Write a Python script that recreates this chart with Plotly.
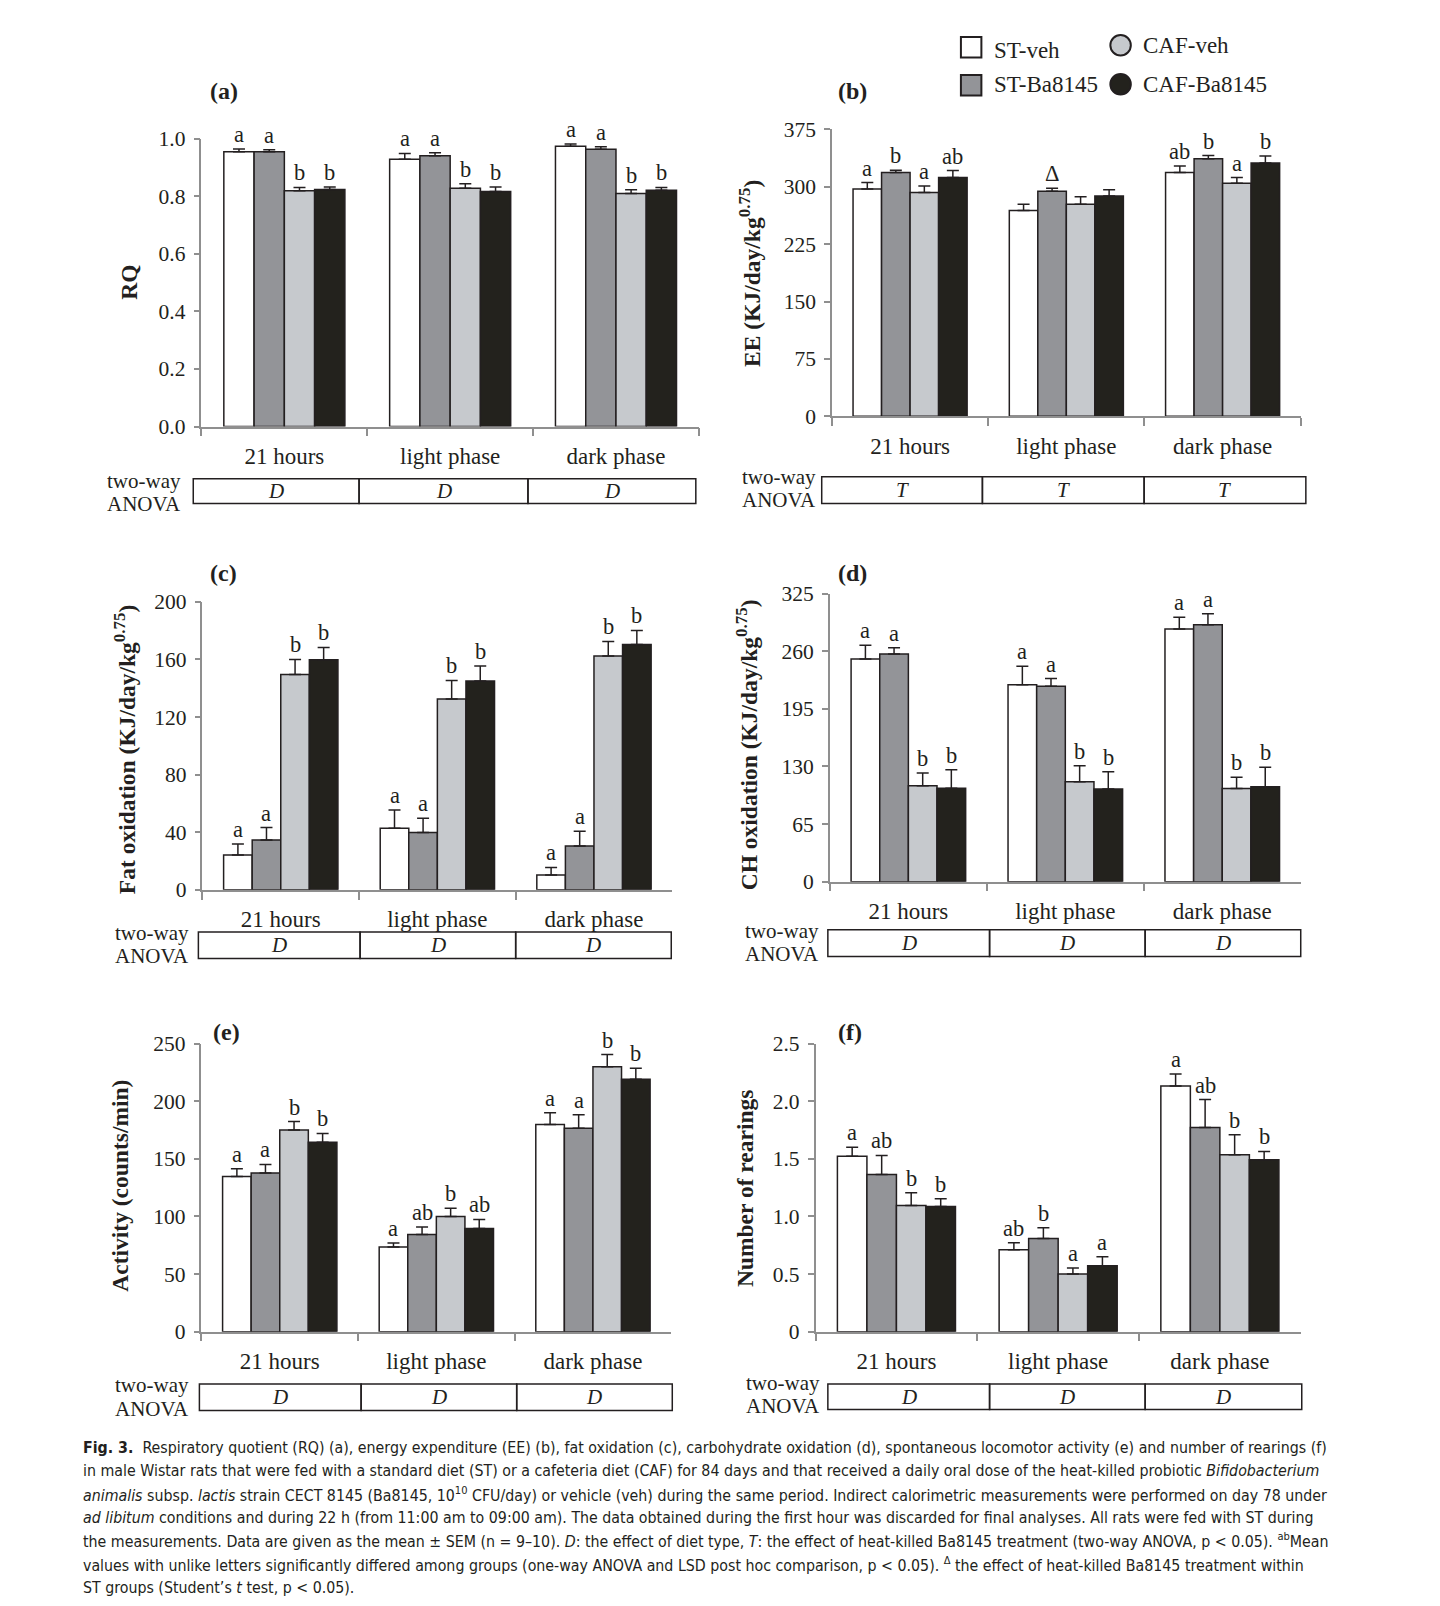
import plotly.graph_objects as go

W, H = 1440, 1606

categories = ["21 hours", "light phase", "dark phase"]
series = ["ST-veh", "ST-Ba8145", "CAF-veh", "CAF-Ba8145"]
bar_colors = ["#ffffff", "#939498", "#c6c9cd", "#23221d"]

# ---- (a) RQ : rows = series, cols = categories
rq_mean = [[0.954, 0.928, 0.973],
           [0.954, 0.940, 0.963],
           [0.819, 0.827, 0.809],
           [0.823, 0.816, 0.820]]
rq_err = [[0.010, 0.020, 0.008],
          [0.007, 0.011, 0.008],
          [0.011, 0.016, 0.013],
          [0.009, 0.016, 0.010]]
rq_letters = [["a", "a", "a"], ["a", "a", "a"], ["b", "b", "b"], ["b", "b", "b"]]
rq_ticks = [0.0, 0.2, 0.4, 0.6, 0.8, 1.0]
rq_ticktext = ["0.0", "0.2", "0.4", "0.6", "0.8", "1.0"]

# ---- (b) EE
ee_mean = [[297, 269, 318.5],
           [318.5, 294, 336.6],
           [292.5, 277, 304.4],
           [312, 288, 331]]
ee_err = [[8.4, 8, 8.5],
          [3, 4, 4],
          [8.5, 10, 7.6],
          [9, 8, 9]]
ee_letters = [["a", "", "ab"], ["b", "Δ", "b"], ["a", "", "a"], ["ab", "", "b"]]
ee_ticks = [0, 75, 150, 225, 300, 375]
ee_ticktext = ["0", "75", "150", "225", "300", "375"]

# ---- (c) Fat oxidation
fat_mean = [[24.2, 42.8, 10.3],
            [34.7, 39.8, 30.5],
            [149.5, 132.6, 162.3],
            [159.8, 145.1, 170.4]]
fat_err = [[7.7, 12.7, 5.3],
           [8.6, 9.9, 10.2],
           [10.5, 12.8, 10.2],
           [8.5, 10.4, 9.7]]
fat_letters = [["a", "a", "a"], ["a", "a", "a"], ["b", "b", "b"], ["b", "b", "b"]]
fat_ticks = [0, 40, 80, 120, 160, 200]
fat_ticktext = ["0", "40", "80", "120", "160", "200"]

# ---- (d) CH oxidation
ch_mean = [[251.3, 222.3, 285.2],
           [257.0, 220.4, 289.8],
           [108.1, 112.7, 105.1],
           [105.5, 104.5, 107.0]]
ch_err = [[15.5, 20.7, 13.2],
          [6.8, 8.7, 12.4],
          [14.4, 18.1, 12.8],
          [20.7, 19.5, 22.2]]
ch_letters = [["a", "a", "a"], ["a", "a", "a"], ["b", "b", "b"], ["b", "b", "b"]]
ch_ticks = [0, 65, 130, 195, 260, 325]
ch_ticktext = ["0", "65", "130", "195", "260", "325"]

# ---- (e) Activity
act_mean = [[134.7, 73.4, 179.8],
            [137.6, 84.4, 176.6],
            [175.1, 100.0, 230.0],
            [164.5, 89.6, 219.0]]
act_err = [[6.6, 3.5, 10.1],
           [7.5, 6.4, 11.6],
           [7.3, 7.2, 10.5],
           [7.5, 7.8, 9.6]]
act_letters = [["a", "a", "a"], ["a", "ab", "a"], ["b", "b", "b"], ["b", "ab", "b"]]
act_ticks = [0, 50, 100, 150, 200, 250]
act_ticktext = ["0", "50", "100", "150", "200", "250"]

# ---- (f) Rearings
rear_mean = [[1.523, 0.711, 2.133],
             [1.364, 0.809, 1.772],
             [1.095, 0.500, 1.535],
             [1.087, 0.572, 1.491]]
rear_err = [[0.078, 0.061, 0.104],
            [0.165, 0.093, 0.242],
            [0.110, 0.052, 0.173],
            [0.066, 0.078, 0.073]]
rear_letters = [["a", "ab", "a"], ["ab", "b", "ab"], ["b", "a", "b"], ["b", "a", "b"]]
rear_ticks = [0, 0.5, 1.0, 1.5, 2.0, 2.5]
rear_ticktext = ["0", "0.5", "1.0", "1.5", "2.0", "2.5"]

anova_a = ["D", "D", "D"]
anova_b = ["T", "T", "T"]
anova_c = ["D", "D", "D"]
anova_d = ["D", "D", "D"]
anova_e = ["D", "D", "D"]
anova_f = ["D", "D", "D"]

SUP = "<sup><span style='font-size:17px'>0.75</span></sup>"
panels = [
    dict(label="(a)", title="RQ", mean=rq_mean, err=rq_err, letters=rq_letters,
         ticks=rq_ticks, ticktext=rq_ticktext, anova=anova_a),
    dict(label="(b)", title="EE (KJ/day/kg" + SUP + ")", mean=ee_mean, err=ee_err,
         letters=ee_letters, ticks=ee_ticks, ticktext=ee_ticktext, anova=anova_b),
    dict(label="(c)", title="Fat oxidation (KJ/day/kg" + SUP + ")", mean=fat_mean,
         err=fat_err, letters=fat_letters, ticks=fat_ticks, ticktext=fat_ticktext, anova=anova_c),
    dict(label="(d)", title="CH oxidation (KJ/day/kg" + SUP + ")", mean=ch_mean,
         err=ch_err, letters=ch_letters, ticks=ch_ticks, ticktext=ch_ticktext, anova=anova_d),
    dict(label="(e)", title="Activity (counts/min)", mean=act_mean, err=act_err,
         letters=act_letters, ticks=act_ticks, ticktext=act_ticktext, anova=anova_e),
    dict(label="(f)", title="Number of rearings", mean=rear_mean, err=rear_err,
         letters=rear_letters, ticks=rear_ticks, ticktext=rear_ticktext, anova=anova_f),
]

# layout geometry (reading coordinates of the reference)
geom = [
    dict(x=(196, 682), y=(136, 417), lab=(218, 90), tit=(125, 276),
         box=(188, 350, 515, 679), by=(468, 492), tw=(140, 470, 493)),
    dict(x=(812, 1270), y=(127, 407), lab=(832, 90), tit=(732, 268),
         box=(802, 959, 1117, 1275), by=(466, 492), tw=(760, 466, 489)),
    dict(x=(197, 656), y=(588, 869), lab=(218, 560), tit=(122, 732),
         box=(193, 351, 503, 655), by=(910, 936), tw=(148, 911, 934)),
    dict(x=(810, 1270), y=(580, 861), lab=(832, 560), tit=(729, 727),
         box=(808, 966, 1118, 1270), by=(908, 934), tw=(763, 909, 932)),
    dict(x=(196, 655), y=(1019, 1300), lab=(220, 1008), tit=(117, 1158),
         box=(194, 352, 504, 656), by=(1351, 1377), tw=(148, 1352, 1375)),
    dict(x=(796, 1270), y=(1019, 1300), lab=(830, 1008), tit=(727, 1160),
         box=(808, 966, 1118, 1271), by=(1351, 1376), tw=(764, 1350, 1373)),
]


def px(x):
    return (x - 7.0) / 0.977 / W


def py(y):
    return 1 - (y - 19.4) / 0.961 / H


SERIF = "Liberation Serif, Times New Roman, serif"
TXT = "#231f20"
AX = "#8f8f8f"
BARGAP = 0.27

fig = go.Figure()
annotations = []
shapes = []
layout_axes = {}

for p, (pan, g) in enumerate(zip(panels, geom)):
    n = "" if p == 0 else str(p + 1)
    xa, ya = "x" + n, "y" + n
    for k, name in enumerate(series):
        fig.add_trace(go.Bar(
            x=categories, y=pan["mean"][k], name=name, xaxis=xa, yaxis=ya,
            marker=dict(color=bar_colors[k], line=dict(color=TXT, width=1.5)),
            error_y=dict(type="data", symmetric=False, array=pan["err"][k],
                         arrayminus=[0] * len(categories), color=TXT,
                         thickness=1.5, width=6),
            showlegend=False,
        ))
        w = (1 - BARGAP) / len(series)
        for i in range(len(categories)):
            t = pan["letters"][k][i]
            if not t:
                continue
            annotations.append(dict(
                x=i + (k - (len(series) - 1) / 2) * w,
                y=pan["mean"][k][i] + pan["err"][k][i],
                xref=xa, yref=ya, text=t, showarrow=False,
                xanchor="center", yanchor="bottom", yshift=0,
                font=dict(family=SERIF, size=22.5, color=TXT)))
    layout_axes["xaxis" + n] = dict(
        domain=[px(g["x"][0]), px(g["x"][1])], anchor=ya, type="category",
        categoryorder="array", categoryarray=categories, range=[-0.5, 2.5],
        tickson="boundaries", ticks="outside", ticklen=8, tickcolor=AX, tickwidth=1.5,
        showline=True, linecolor=AX, linewidth=1.5, showgrid=False, zeroline=False,
        ticklabelstandoff=8, tickfont=dict(family=SERIF, size=23, color=TXT))
    layout_axes["yaxis" + n] = dict(
        domain=[py(g["y"][1]), py(g["y"][0])], anchor=xa,
        range=[pan["ticks"][0], pan["ticks"][-1]], tickvals=pan["ticks"],
        ticktext=pan["ticktext"], ticks="outside", ticklen=6, tickcolor=AX,
        tickwidth=1.5, showline=True, linecolor=AX, linewidth=1.5, showgrid=False,
        zeroline=False, ticklabelstandoff=4,
        tickfont=dict(family=SERIF, size=21.5, color=TXT))
    # panel label
    annotations.append(dict(x=px(g["lab"][0]), y=py(g["lab"][1]), xref="paper", yref="paper",
                            xanchor="center", yanchor="middle",
                            text="<b>" + pan["label"] + "</b>", showarrow=False,
                            font=dict(family=SERIF, size=24, color=TXT)))
    # y title
    annotations.append(dict(x=px(g["tit"][0]), y=py(g["tit"][1]), xref="paper", yref="paper",
                            xanchor="center", yanchor="middle",
                            text="<b>" + pan["title"] + "</b>", showarrow=False, textangle=-90,
                            font=dict(family=SERIF, size=23.5, color=TXT)))
    # ANOVA box
    bx = g["box"]
    for i in range(3):
        shapes.append(dict(type="rect", xref="paper", yref="paper",
                           x0=px(bx[i]), x1=px(bx[i + 1]),
                           y0=py(g["by"][1]), y1=py(g["by"][0]),
                           line=dict(color=TXT, width=1.5), fillcolor="rgba(0,0,0,0)"))
        annotations.append(dict(x=px((bx[i] + bx[i + 1]) / 2), y=py((g["by"][0] + g["by"][1]) / 2),
                                xref="paper", yref="paper", xanchor="center", yanchor="middle",
                                text="<i>" + pan["anova"][i] + "</i>",
                                showarrow=False, font=dict(family=SERIF, size=21, color=TXT)))
    annotations.append(dict(x=px(g["tw"][0]), y=py(g["tw"][1]), xref="paper", yref="paper",
                            xanchor="center", yanchor="middle", text="two-way", showarrow=False,
                            font=dict(family=SERIF, size=21, color=TXT)))
    annotations.append(dict(x=px(g["tw"][0]), y=py(g["tw"][2]), xref="paper", yref="paper",
                            xanchor="center", yanchor="middle", text="ANOVA", showarrow=False,
                            font=dict(family=SERIF, size=21, color=TXT)))

# manual legend
leg_items = [
    ("ST-veh", "rect", bar_colors[0], 948, 47, 50),
    ("ST-Ba8145", "rect", bar_colors[1], 948, 84, 83),
    ("CAF-veh", "circle", bar_colors[2], 1094, 45, 45),
    ("CAF-Ba8145", "circle", bar_colors[3], 1094, 83, 83),
]
for name, kind, col, cx, cy, ty in leg_items:
    r = 10
    shapes.append(dict(type=kind, xref="paper", yref="paper",
                       x0=px(cx - r), x1=px(cx + r), y0=py(cy + r), y1=py(cy - r),
                       fillcolor=col, line=dict(color=TXT, width=2)))
    annotations.append(dict(x=px(cx + 20), y=py(ty), xref="paper", yref="paper",
                            xanchor="left", yanchor="middle", text=name, showarrow=False,
                            font=dict(family=SERIF, size=23, color=TXT)))

# caption
caption_lines = [
    "<b>Fig. 3.</b>  Respiratory quotient (RQ) (a), energy expenditure (EE) (b), fat oxidation (c), carbohydrate oxidation (d), spontaneous locomotor activity (e) and number of rearings (f)",
    "in male Wistar rats that were fed with a standard diet (ST) or a cafeteria diet (CAF) for 84 days and that received a daily oral dose of the heat-killed probiotic <i>Bifidobacterium</i>",
    "<i>animalis</i> subsp. <i>lactis</i> strain CECT 8145 (Ba8145, 10<sup>10</sup> CFU/day) or vehicle (veh) during the same period. Indirect calorimetric measurements were performed on day 78 under",
    "<i>ad libitum</i> conditions and during 22 h (from 11:00 am to 09:00 am). The data obtained during the first hour was discarded for final analyses. All rats were fed with ST during",
    "the measurements. Data are given as the mean ± SEM (n = 9–10). <i>D</i>: the effect of diet type, <i>T</i>: the effect of heat-killed Ba8145 treatment (two-way ANOVA, p < 0.05). <sup>ab</sup>Mean",
    "values with unlike letters significantly differed among groups (one-way ANOVA and LSD post hoc comparison, p < 0.05). <sup>Δ</sup> the effect of heat-killed Ba8145 treatment within",
    "ST groups (Student’s <i>t</i> test, p < 0.05).",
]
for j, line in enumerate(caption_lines):
    annotations.append(dict(x=px(78), y=py(1413 + 22.8 * j), xref="paper", yref="paper",
                            xanchor="left", yanchor="middle", text=line, showarrow=False,
                            font=dict(family="Liberation Sans Narrow, DejaVu Sans Condensed, Liberation Sans, sans-serif",
                                      size=15.8, color=TXT)))

fig.update_layout(
    width=W, height=H, margin=dict(l=0, r=0, t=0, b=0),
    paper_bgcolor="white", plot_bgcolor="white",
    barmode="group", bargap=BARGAP, bargroupgap=0, showlegend=False,
    annotations=annotations, shapes=shapes, **layout_axes)

fig.write_html("out.html")
